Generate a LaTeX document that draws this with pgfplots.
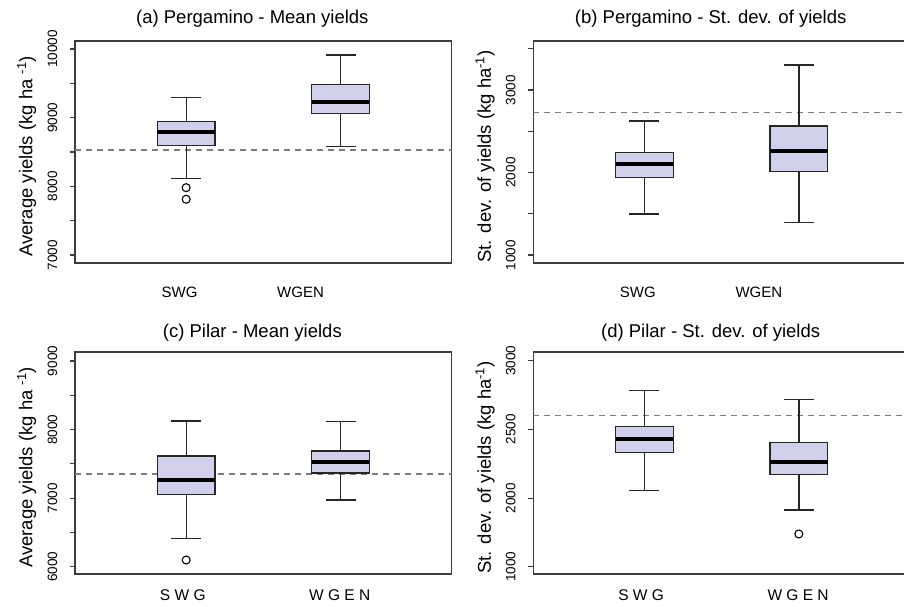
\documentclass[border=0pt]{standalone}
\usepackage{fontspec}
\setmainfont{Liberation Sans}
\usepackage{pgfplots}
\pgfplotsset{compat=1.18}
\usepgfplotslibrary{statistics}
\definecolor{boxfill}{RGB}{208,208,234}
\definecolor{framec}{RGB}{60,60,60}
\definecolor{dashc}{RGB}{125,125,125}
\pgfplotsset{
  panel/.style={
    scale only axis, width=376.7pt, height=222pt,
    xmin=0.28, xmax=2.72,
    boxplot/draw direction=y,
    scaled y ticks=false,
    axis line style={framec, line width=1.4pt},
    tick align=outside, major tick length=5pt,
    ytick pos=left, xtick pos=left,
    xtick style={draw=none},
    ytick style={framec, line width=1.1pt},
    yticklabel style={rotate=90, anchor=south, inner xsep=0pt, inner ysep=12.5pt, font=\fontsize{13.5}{15}\selectfont},
    xticklabel style={anchor=base, inner sep=0pt, font=\fontsize{15}{17}\selectfont},
    ylabel style={at={(axis description cs:-0.128,0.48)}, anchor=center, font=\fontsize{18.5}{22}\selectfont},
    title style={font=\fontsize{18.5}{22}\selectfont, at={(0.5,1)}, anchor=base, xshift=-11pt},
    boxplot/box extend=0.373, boxplot/whisker extend=0.194,
    boxplot/every median/.style={black, line width=4pt},
  },
  bx/.style={draw=black!85, line width=1.3pt, fill=boxfill},
  outl/.style={only marks, mark=o, mark size=4pt, black, line width=1.1pt},
  refl/.style={dashc, line width=1.3pt, dash pattern=on 6pt off 5pt},
}
\begin{document}
\begin{tikzpicture}
\path[use as bounding box] (0pt,0pt) rectangle (904pt,606pt);
\clip (0pt,0pt) rectangle (904pt,606pt);

% (a)
\begin{axis}[panel, at={(75pt,343pt)}, anchor=south west,
  ymin=6884, ymax=10116,
  ytick={7000,7500,8000,8500,9000,9500,10000},
  yticklabels={\mbox{7000},,\mbox{8000},,\mbox{9000},,\mbox{10000}},
  xtick={0.957,1.741}, xticklabels={SWG,WGEN},
  xticklabel style={yshift=-29pt},
  ylabel={Average yields (kg ha \textsuperscript{-1})},
  title={(a) Pergamino - Mean yields}, title style={yshift=11.5pt}]
\addplot[refl] coordinates {(0.28,8530) (2.72,8530)};
\addplot[bx, boxplot prepared={draw position=1, lower whisker=8112, lower quartile=8593, median=8787, upper quartile=8942, upper whisker=9291}] coordinates {};
\addplot[bx, boxplot prepared={draw position=2, lower whisker=8578, lower quartile=9058, median=9233, upper quartile=9480, upper whisker=9913}] coordinates {};
\addplot[outl] coordinates {(1,7981) (1,7812)};
\end{axis}

% (b)
\begin{axis}[panel, at={(533.3pt,343pt)}, anchor=south west,
  ymin=903, ymax=3594,
  ytick={1000,1500,2000,2500,3000,3500},
  yticklabels={\mbox{1000},,\mbox{2000},,\mbox{3000},},
  xtick={0.957,1.741}, xticklabels={SWG,WGEN},
  xticklabel style={yshift=-29pt},
  ylabel={St. dev. of yields (kg ha\textsuperscript{-1})},
  title={(b) Pergamino - St. dev. of yields}, title style={yshift=11.5pt}]
\addplot[refl] coordinates {(0.28,2730) (2.72,2730)};
\addplot[bx, boxplot prepared={draw position=1, lower whisker=1497, lower quartile=1937, median=2103, upper quartile=2245, upper whisker=2624}] coordinates {};
\addplot[bx, boxplot prepared={draw position=2, lower whisker=1392, lower quartile=2010, median=2264, upper quartile=2564, upper whisker=3303}] coordinates {};
\end{axis}

% (c)
\begin{axis}[panel, at={(75pt,32pt)}, anchor=south west,
  ymin=5894, ymax=9131,
  ytick={6000,6500,7000,7500,8000,8500,9000},
  yticklabels={\mbox{6000},,\mbox{7000},,\mbox{8000},,\mbox{9000}},
  xtick={0.978,1.995}, xticklabels={S W G,W G E N},
  xticklabel style={yshift=-21pt, font=\fontsize{15.5}{17}\selectfont},
  ylabel={Average yields (kg ha \textsuperscript{-1})},
  title={(c) Pilar - Mean yields}, title style={yshift=8.5pt}]
\addplot[refl] coordinates {(0.28,7351) (2.72,7351)};
\addplot[bx, boxplot prepared={draw position=1, lower whisker=6408, lower quartile=7055, median=7259, upper quartile=7614, upper whisker=8124}] coordinates {};
\addplot[bx, boxplot prepared={draw position=2, lower whisker=6972, lower quartile=7366, median=7522, upper quartile=7687, upper whisker=8114}] coordinates {};
\addplot[outl] coordinates {(1,6098)};
\end{axis}

% (d)
\begin{axis}[panel, at={(533.3pt,32pt)}, anchor=south west,
  ymin=1448, ymax=3063,
  ytick={1500,2000,2500,3000},
  yticklabels={\mbox{1000},\mbox{2000},\mbox{2500},\mbox{3000}},
  xtick={0.978,1.995}, xticklabels={S W G,W G E N},
  xticklabel style={yshift=-21pt, font=\fontsize{15.5}{17}\selectfont},
  ylabel={St. dev. of yields (kg ha\textsuperscript{-1})},
  title={(d) Pilar - St. dev. of yields}, title style={yshift=8.5pt}]
\addplot[refl] coordinates {(0.28,2602) (2.72,2602)};
\addplot[bx, boxplot prepared={draw position=1, lower whisker=2054, lower quartile=2333, median=2432, upper quartile=2522, upper whisker=2784}] coordinates {};
\addplot[bx, boxplot prepared={draw position=2, lower whisker=1913, lower quartile=2170, median=2265, upper quartile=2406, upper whisker=2716}] coordinates {};
\addplot[outl] coordinates {(2,1739)};
\end{axis}
\end{tikzpicture}
\end{document}
